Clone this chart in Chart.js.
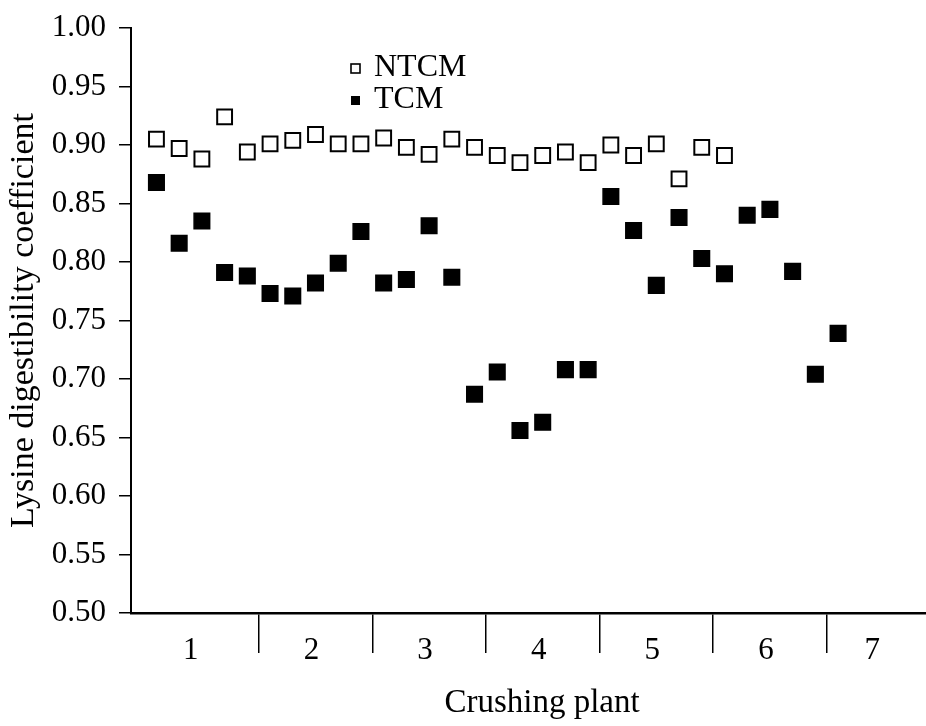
<!DOCTYPE html>
<html>
<head>
<meta charset="utf-8">
<script src="https://cdn.jsdelivr.net/npm/chart.js@4/dist/chart.umd.min.js"></script>
<style>
  html, body { margin: 0; padding: 0; background: #fff; }
  #wrap { width: 926px; height: 726px; }
</style>
</head>
<body>
<div id="wrap"><canvas id="lysine-chart" width="926" height="726"></canvas></div>
<script>
// lysine digestibility per sample, samples in order of crushing plant
const ntcmValues = [
  0.905, 0.897, 0.888, 0.924, 0.894,
  0.901, 0.904, 0.909, 0.901, 0.901,
  0.906, 0.898, 0.892, 0.905, 0.898,
  0.891, 0.885, 0.891, 0.894, 0.885,
  0.900, 0.891, 0.901, 0.871, 0.898,
  0.891
];
const tcmValues = [
  0.868, 0.816, 0.835, 0.791, 0.788,
  0.773, 0.771, 0.782, 0.799, 0.826,
  0.782, 0.785, 0.831, 0.787, 0.687,
  0.706, 0.656, 0.663, 0.708, 0.708,
  0.856, 0.827, 0.780, 0.838, 0.803,
  0.790, 0.840, 0.845, 0.792, 0.704,
  0.739
];
const plantLabels = ["1", "2", "3", "4", "5", "6", "7"];
const samplesPerPlant = [5, 5, 5, 5, 5, 5, 1];
const yTicks = [0.50, 0.55, 0.60, 0.65, 0.70, 0.75, 0.80, 0.85, 0.90, 0.95, 1.00];

const serif = "'Liberation Serif', 'Times New Roman', serif";

// boundaries between plants, in sample index units
const plantBounds = [];
let acc = 0;
for (let i = 0; i < samplesPerPlant.length - 1; i++) {
  acc += samplesPerPlant[i];
  plantBounds.push(acc - 0.5);
}

const toPoints = arr => arr.map((v, i) => ({ x: i, y: v }));

const extras = {
  id: "extras",
  afterDraw(chart) {
    const ctx = chart.ctx;
    const xs = chart.scales.x;
    const area = chart.chartArea;
    ctx.save();
    ctx.fillStyle = "#000";
    ctx.textAlign = "center";
    ctx.textBaseline = "middle";

    // plant numbers centred between dividers
    ctx.font = "31px " + serif;
    const edges = [xs.min].concat(plantBounds, [xs.max]);
    plantLabels.forEach((lab, i) => {
      const px = (xs.getPixelForValue(edges[i]) + xs.getPixelForValue(edges[i + 1])) / 2;
      ctx.fillText(lab, px - 4, area.bottom + 38);
    });

    // axis titles
    ctx.font = "33px " + serif;
    ctx.fillText("Crushing plant", 542, 703);
    ctx.save();
    ctx.translate(24, (area.top + area.bottom) / 2);
    ctx.rotate(-Math.PI / 2);
    ctx.font = "34px " + serif;
    ctx.fillText("Lysine digestibility coefficient", 0, 0);
    ctx.restore();

    // legend
    ctx.textAlign = "left";
    ctx.font = "32px " + serif;
    const items = [
      { label: chart.data.datasets[0].label, filled: false, y: 68 },
      { label: chart.data.datasets[1].label, filled: true, y: 100 }
    ];
    items.forEach(it => {
      if (it.filled) {
        ctx.fillRect(351, it.y - 4, 9, 9);
      } else {
        ctx.lineWidth = 1.6;
        ctx.strokeRect(351, it.y - 4, 9, 9);
      }
      ctx.fillText(it.label, 374, it.y);
    });
    ctx.restore();
  }
};

new Chart(document.getElementById("lysine-chart"), {
  type: "scatter",
  data: {
    datasets: [
      {
        label: "NTCM",
        data: toPoints(ntcmValues),
        pointStyle: "rect",
        pointRadius: 10.5,
        pointHoverRadius: 10.5,
        pointBorderWidth: 2,
        borderColor: "#000",
        backgroundColor: "#fff"
      },
      {
        label: "TCM",
        data: toPoints(tcmValues),
        pointStyle: "rect",
        pointRadius: 11,
        pointHoverRadius: 11,
        pointBorderWidth: 1.5,
        borderColor: "#000",
        backgroundColor: "#000"
      }
    ]
  },
  options: {
    responsive: false,
    animation: false,
    layout: { autoPadding: false, padding: { top: 28, right: 0, left: 0, bottom: 0 } },
    plugins: {
      legend: { display: false },
      tooltip: { enabled: false }
    },
    scales: {
      x: {
        type: "linear",
        min: -1.12,
        max: 33.87,
        afterBuildTicks: s => { s.ticks = plantBounds.map(v => ({ value: v })); },
        afterFit: s => { s.height = 113; },
        border: { display: true, color: "#000", width: 2.5 },
        grid: { drawOnChartArea: false, drawTicks: true, tickLength: 40, color: "#000", lineWidth: 1.5 },
        ticks: { display: false }
      },
      y: {
        min: 0.5,
        max: 1.0,
        afterBuildTicks: s => { s.ticks = yTicks.map(v => ({ value: v })); },
        afterFit: s => { s.width = 131; s.paddingTop = 0; s.paddingBottom = 0; },
        border: { display: true, color: "#000", width: 2 },
        grid: { drawOnChartArea: false, tickLength: 12, color: "#000", lineWidth: 1.5 },
        ticks: {
          color: "#000",
          padding: 13,
          font: { family: serif, size: 31 },
          callback: v => v.toFixed(2)
        }
      }
    }
  },
  plugins: [extras]
});
</script>
</body>
</html>
